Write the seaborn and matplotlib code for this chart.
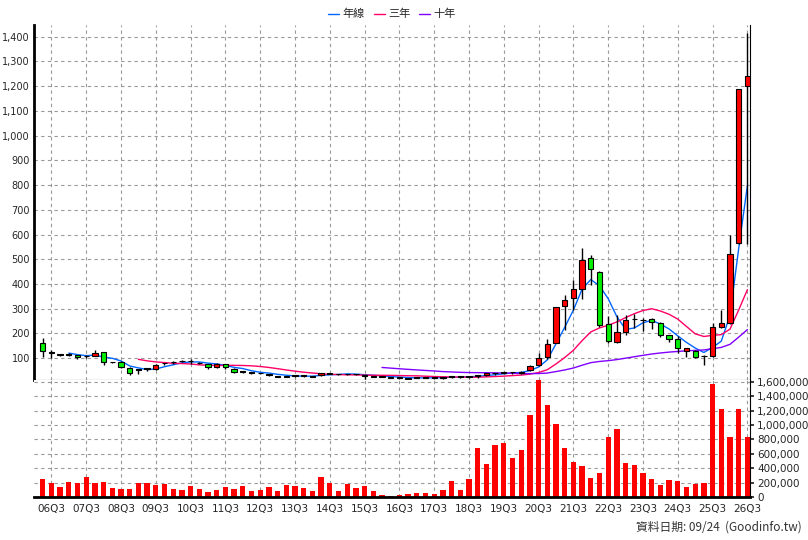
import numpy as np
import pandas as pd
import matplotlib
matplotlib.use("Agg")
import matplotlib.pyplot as plt
import seaborn as sns

opens  = [160,123,115,115,112,107,111,124,85,85,60,53,57,56,80,84,89,87,80,76,65,76,56,46,41,40,33,26,26,29,
          29,26,31,38,35,35,35,29,26,26,22,22,17,22,22,22,22,26,26,26,29,31,39,42,43,42,53,73,103,163,
          311,342,379,504,447,237,167,205,258,255,258,241,193,178,131,131,107,111,228,244,565,1202]
closes = [130,123,115,115,105,107,123,84,85,64,42,53,57,73,80,84,89,87,80,65,76,65,46,46,41,40,33,26,26,29,
          29,26,39,38,35,35,35,29,26,26,22,22,17,22,22,22,22,26,26,26,29,39,39,42,43,46,69,100,158,306,
          336,379,497,460,235,171,205,255,258,255,245,194,179,143,140,103,107,225,241,520,1188,1241]
highs  = [182,134,116,120,115,114,133,126,86,90,66,54,58,76,82,90,91,95,83,78,79,78,60,50,44,42,37,28,29,32,
          32,28,42,42,38,38,38,31,28,28,24,24,18,24,24,24,24,28,28,28,30,41,42,45,46,49,71,122,178,306,
          356,417,545,517,454,271,275,275,279,262,262,245,195,190,143,133,113,244,295,598,1188,1413]
lows   = [105,100,108,110,95,100,107,72,82,60,34,36,50,54,72,76,84,78,77,58,60,58,40,42,38,36,29,24,24,26,
          26,24,29,35,33,33,31,18,24,24,20,20,16,20,20,20,18,22,22,22,22,29,33,36,38,36,50,68,98,160,
          214,295,338,396,228,160,160,194,221,210,220,185,165,120,103,100,73,104,221,240,560,560]
volumes = [246,190,135,204,190,274,190,204,121,107,107,190,190,162,176,107,93,148,107,65,93,135,107,148,79,93,
           135,79,162,148,121,79,274,190,79,176,121,148,79,23,9,23,37,51,51,37,93,218,93,246,677,455,719,747,
           538,649,1136,1637,1275,1011,677,482,427,260,329,830,941,469,441,329,246,162,232,218,135,176,190,
           1568,1220,830,1220,830]
tick_labels = [f"{y:02d}Q3" for y in range(6, 27)]
ma_names = ["年線", "三年", "十年"]
ma_windows = [4, 12, 40]
ma_colors = ["#0066ff", "#ff0066", "#8000ff"]

n = len(closes)
df = pd.DataFrame({"i": np.arange(n), "open": opens, "close": closes, "high": highs, "low": lows,
                   "vol": np.array(volumes) * 1000})

sns.set_theme(style="white")
plt.rcParams["font.family"] = ["Noto Sans CJK TC", "DejaVu Sans"]

L, R = 34, 750
fig = plt.figure(figsize=(8.08, 5.4), dpi=100)
axp = fig.add_axes([L/808, 1-380/540, (R-L)/808, 355/540])
axv = fig.add_axes([L/808, 1-497/540, (R-L)/808, 117/540], sharex=axp)
x0 = -1.0

axp.vlines(df["i"], df["low"], df["high"], color="black", lw=1, zorder=3)
body = (df["close"] - df["open"]).abs()
bottom = np.minimum(df["open"], df["close"])
cols = np.where(df["close"] > df["open"], "#ff0000", np.where(df["close"] < df["open"], "#00ee00", "black"))
axp.bar(df["i"], np.maximum(body, 1.5), bottom=bottom, width=0.6, color=cols, edgecolor="black",
        linewidth=0.8, zorder=4)

for name, w, c in zip(ma_names, ma_windows, ma_colors):
    ma = df["close"].rolling(w).mean()
    sns.lineplot(x=df["i"], y=ma, ax=axp, color=c, lw=1, label=name, zorder=2)

axp.set_xlim(x0, 81.3)
axp.set_ylim(12, 1447)
axp.set_yticks(range(100, 1401, 100))
axp.set_yticklabels([f"{v:,}" for v in range(100, 1401, 100)], fontsize=7, family="DejaVu Sans")
axp.grid(True, color="#999999", ls=(0, (3, 3)), lw=0.8)
axp.set_xlabel(""); axp.set_ylabel("")
axp.tick_params(axis="x", labelbottom=False, length=0)
axp.tick_params(axis="y", length=2, pad=1)
axp.legend(loc="lower center", bbox_to_anchor=(0.5, 1.0), ncol=3, frameon=False, fontsize=8,
           handlelength=1.0, columnspacing=0.8, handletextpad=0.3, borderaxespad=0.1)

sns.barplot(x="i", y="vol", data=df, ax=axv, color="#ff0000", native_scale=True, width=0.6,
            saturation=1, linewidth=0)
axv.set_ylim(0, 1624000)
axv.yaxis.tick_right()
axv.set_yticks(range(0, 1600001, 200000))
axv.set_yticklabels([f"{v:,}" for v in range(0, 1600001, 200000)], fontsize=7.5, family="DejaVu Sans")
axv.grid(True, color="#999999", ls=(0, (3, 3)), lw=0.8)
axv.set_xticks(range(1, n, 4))
axv.set_xticklabels(tick_labels, fontsize=7.5, family="DejaVu Sans")
axv.set_xlim(x0, 81.3)
axv.set_xlabel(""); axv.set_ylabel("")
axv.tick_params(axis="both", length=3, pad=2)

for ax in (axp, axv):
    for s in ax.spines.values():
        s.set_color("black")
        s.set_linewidth(0.8)
    ax.spines["top"].set_visible(False)
axp.spines["left"].set_linewidth(2)
axv.spines["left"].set_visible(False)
axv.spines["bottom"].set_linewidth(2)

fig.text(802/808, 1-527/540, "資料日期: 09/24  (Goodinfo.tw)", ha="right", va="center", fontsize=8.5,
         color="#333333")
fig.savefig("out.png", dpi=100)
